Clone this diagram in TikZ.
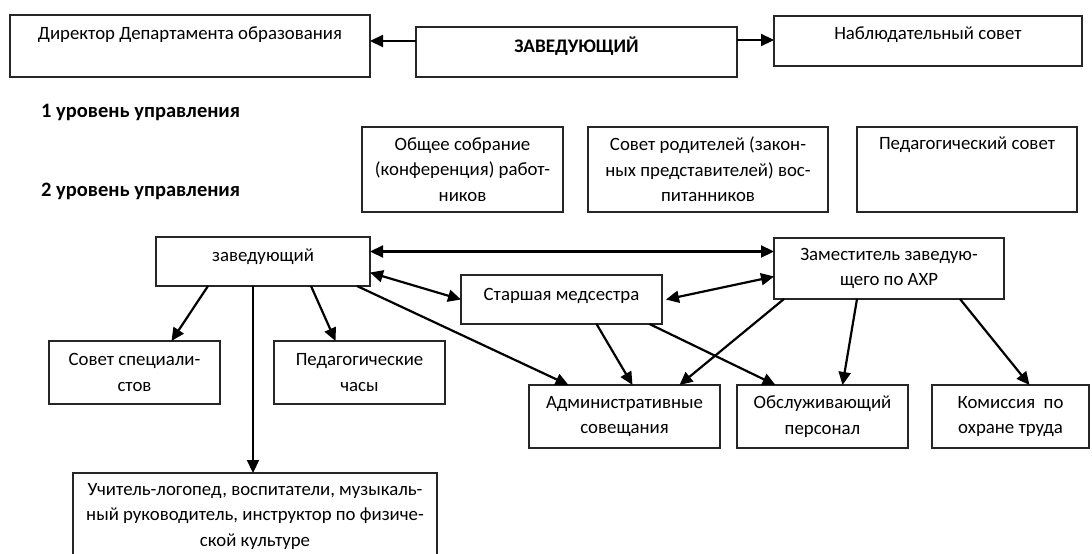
\documentclass[tikz,border=0pt]{standalone}
\usepackage{fontspec}
\setmainfont{Carlito}
\usetikzlibrary{arrows.meta}

\tikzset{
  box/.style={draw=black!85, line width=1.1pt, rectangle, inner sep=0pt, outer sep=0pt,
    align=center, anchor=north west, font=\fontsize{18.8}{25.5}\selectfont},
  lvl/.style={anchor=base west, inner sep=0pt, font=\fontsize{20.5}{22}\selectfont\bfseries},
  arr/.style={draw, line width=2.2pt, -{Triangle[length=13pt,width=12pt]}},
  darr/.style={draw, line width=2.2pt, {Triangle[length=13pt,width=12pt]}-{Triangle[length=13pt,width=12pt]}}
}

\begin{document}
\begin{tikzpicture}[x=1pt,y=-1pt]
  \useasboundingbox (0,0) rectangle (1092,554);

  % boxes, top left corners
  \begin{scope}[every node/.style={box}]
    \node[minimum width=360pt, text height=24pt, text depth=38pt] (dir) at (10,15) {Директор Департамента образования};
    \node[minimum width=321pt, text height=25pt, text depth=25pt, font=\fontsize{19.2}{22}\selectfont\bfseries] (zav1) at (416,27) {ЗАВЕДУЮЩИЙ};
    \node[minimum width=308pt, text height=23pt, text depth=27pt] (nab) at (774,16) {Наблюдательный совет};

    \node[minimum width=201pt, minimum height=85pt] (obs) at (362,127) {Общее собрание\\(конференция) работ-\\ников};
    \node[minimum width=240pt, minimum height=85pt] (rod) at (588,127) {Совет родителей (закон-\\ных представителей) вос-\\питанников};
    \node[minimum width=220pt, text height=22pt, text depth=63pt] (ped) at (857,127) {Педагогический совет};

    \node[minimum width=214pt, text height=24pt, text depth=25pt] (zav2) at (156,237) {заведующий};
    \node[minimum width=230pt, minimum height=61pt] (zam) at (774,238) {Заместитель заведую-\\щего по АХР};
    \node[minimum width=201pt, text height=25pt, text depth=24pt] (med) at (461,275) {Старшая медсестра};

    \node[minimum width=171pt, minimum height=63pt] (sps) at (49,341) {Совет специали-\\стов};
    \node[minimum width=171pt, minimum height=63pt] (pch) at (274,341) {Педагогические\\часы};
    \node[minimum width=191pt, minimum height=63pt] (adm) at (529,385) {Административные\\совещания};
    \node[minimum width=171pt, minimum height=63pt] (obl) at (737,385) {Обслуживающий\\персонал};
    \node[minimum width=157pt, minimum height=63pt] (kom) at (932,385) {Комиссия \ по\\охране труда};
    \node[minimum width=364pt, minimum height=86pt] (uch) at (73,473) {Учитель-логопед, воспитатели, музыкаль-\\ный руководитель, инструктор по физиче-\\ской культуре};
  \end{scope}

  \node[lvl] (lvl1) at (41,117) {1 уровень управления};
  \node[lvl] (lvl2) at (41,196) {2 уровень управления};

  % connectors
  \begin{scope}[every edge/.style={arr}]
    \path ([yshift=11pt]zav1.west) edge ([yshift=11pt]zav1.west -| dir.east);
    \path ([yshift=12pt]zav1.east) edge ([yshift=12pt]zav1.east -| nab.west);

    \path ([xshift=-55pt]zav2.south) edge ([xshift=37pt]sps.north);
    \path ([xshift=48pt]zav2.south) edge ([xshift=-24pt]pch.north);
    \path ([xshift=-10pt]zav2.south) edge ([xshift=-10pt]zav2.south |- uch.north);
    \path ([xshift=94pt]zav2.south) edge ([xshift=-56pt]adm.north);

    \path ([xshift=35pt]med.south) edge ([xshift=8pt]adm.north);
    \path ([xshift=88pt]med.south) edge ([xshift=-47pt]obl.north);

    \path ([xshift=-105pt]zam.south) edge ([xshift=55pt]adm.north);
    \path ([xshift=-32pt]zam.south) edge ([xshift=20pt]obl.north);
    \path ([xshift=71pt]zam.south) edge ([xshift=19pt]kom.north);
  \end{scope}

  \begin{scope}[every edge/.style={darr}]
    \path ([yshift=10pt]zav2.east) edge ([yshift=10pt]zav2.east -| zam.west);
    \path ([yshift=-11pt]zav2.east) edge (med.west);
    \path ([xshift=4pt]med.east) edge ([yshift=-8pt]zam.west);
  \end{scope}

\end{tikzpicture}
\end{document}
